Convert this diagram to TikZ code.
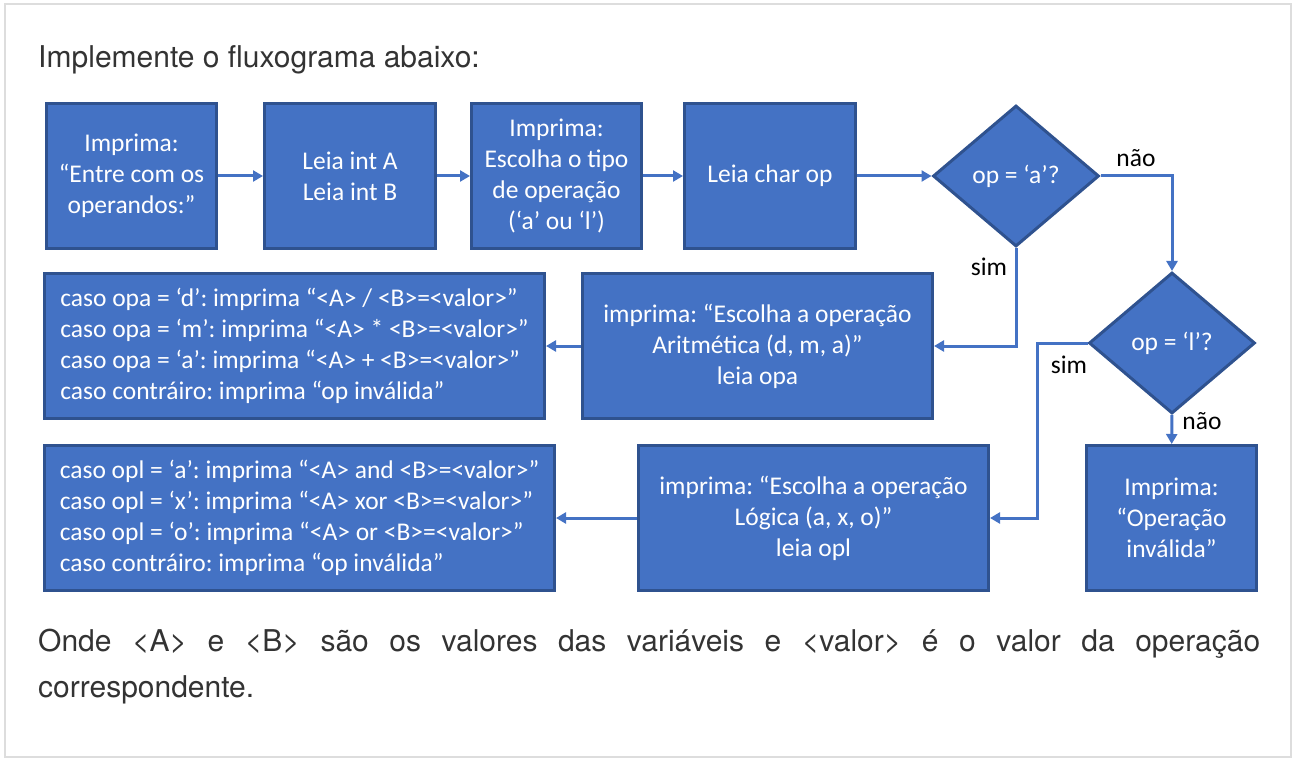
\documentclass[tikz,border=0pt]{standalone}
\usepackage{fontspec}
\setmainfont{Carlito}
\newfontfamily\heros{TeX Gyre Heros}
\frenchspacing
\usetikzlibrary{shapes.geometric,arrows.meta,positioning}
\definecolor{officeblue}{HTML}{4472C4}
\definecolor{officeline}{HTML}{2F528F}
\definecolor{pagetext}{HTML}{333333}
\definecolor{frame}{HTML}{DDDDDD}
\tikzset{box/.style={rectangle,fill=officeblue,draw=officeline,line width=3pt,text=white,minimum height=145pt,inner sep=0pt,align=center,font=\fontsize{25.5}{31}\selectfont},
         test/.style={diamond,fill=officeblue,draw=officeline,line width=3pt,text=white,minimum width=166pt,minimum height=141pt,inner sep=0pt,font=\fontsize{25.5}{31}\selectfont},
         flow/.style={->,draw=officeblue,line width=3pt},
         edge label/.style={rectangle,draw=none,fill=none,text=black,inner sep=0pt,font=\fontsize{25.5}{31}\selectfont},
         page text/.style={rectangle,draw=none,fill=none,text=pagetext,inner sep=0pt,font=\heros\fontsize{30}{46}\selectfont}
}
\begin{document}
\begin{tikzpicture}[x=1pt,y=-1pt,>={Triangle[length=10pt,width=11pt]}]
\useasboundingbox (0,0) rectangle (1296,762);
\draw[frame,line width=2pt] (5,4) rectangle (1291,757);
\node[page text,anchor=base west] (title) at (38,68) {Implemente o fluxograma abaixo:};
\node[box,minimum width=170pt] (imp) at (131.5,176) {Imprima:\\“Entre com os\\operandos:”};
\node[box,minimum width=171pt] (leab) at (350,176) {Leia int A\\Leia int B};
\node[box,minimum width=170pt] (tipo) at (556.5,176) {Imprima:\\Escolha o tipo\\de operação\\(‘a’ ou ‘l’)};
\node[box,minimum width=171pt] (leop) at (770,176) {Leia char op};
\node[test] (qa) at (1016,176) {op = ‘a’?};
\node[test] (ql) at (1172,343) {op = ‘l’?};
\node[box,minimum width=350pt] (arit) at (757.5,346) {imprima: “Escolha a operação\\Aritmética (d, m, a)”\\leia opa};
\node[box,minimum width=500pt,align=left] (casoa) at (294.5,346) {caso opa = ‘d’: imprima “<A> / <B>=<valor>”\\caso opa = ‘m’: imprima “<A> * <B>=<valor>”\\caso opa = ‘a’: imprima “<A> + <B>=<valor>”\\caso contráiro: imprima “op inválida”};
\node[box,minimum width=350pt] (logi) at (813.5,518) {imprima: “Escolha a operação\\Lógica (a, x, o)”\\leia opl};
\node[box,minimum width=510pt,align=left] (casol) at (299.5,518) {caso opl = ‘a’: imprima “<A> and <B>=<valor>”\\caso opl = ‘x’: imprima “<A> xor <B>=<valor>”\\caso opl = ‘o’: imprima “<A> or <B>=<valor>”\\caso contráiro: imprima “op inválida”};
\node[box,minimum width=170pt] (inv) at (1171.5,518) {Imprima:\\“Operação\\inválida”};
\draw[flow] (imp) -- (leab);
\draw[flow] (leab) -- (tipo);
\draw[flow] (tipo) -- (leop);
\draw[flow] (leop) -- (qa);
\draw[flow] (qa.east) -| (ql.north);
\draw[flow] (qa.south) |- (arit.east);
\draw[flow] (arit) -- (casoa);
\draw[flow] (ql.west) -- ++(-50,0) |- (logi.east);
\draw[flow] (logi) -- (casol);
\draw[flow] (ql) -- (inv);
\node[edge label] (nao1) at (1136,158) {não};
\node[edge label] (sim1) at (989,267) {sim};
\node[edge label] (sim2) at (1069,365) {sim};
\node[edge label] (nao2) at (1202,421) {não};
\node[page text,anchor=base west] (note) at (38,651) {\parbox[t]{1222pt}{Onde <A> e <B> são os valores das variáveis e <valor> é o valor da operação\linebreak correspondente.}};
\end{tikzpicture}
\end{document}
